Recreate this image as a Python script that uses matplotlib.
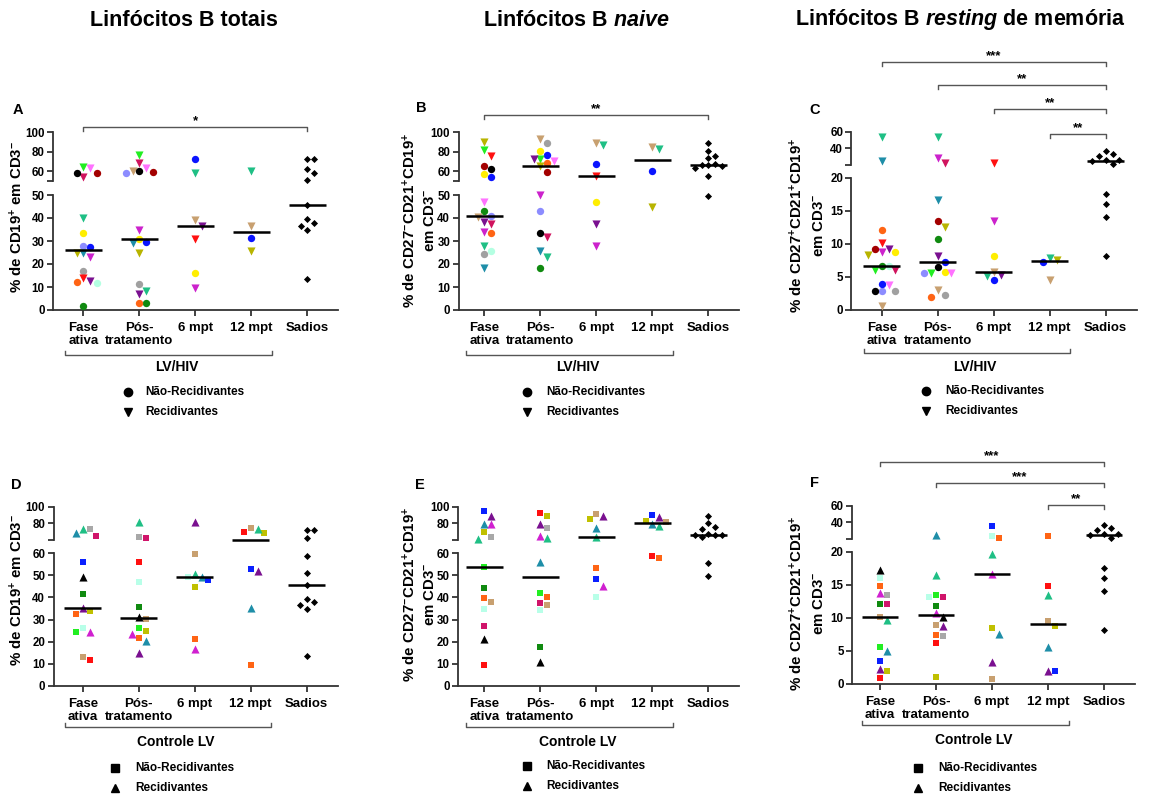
import numpy as np
import matplotlib
matplotlib.use('Agg')
from matplotlib import pyplot as plt
from matplotlib.transforms import blended_transform_factory

plt.rcParams['font.family'] = ['Liberation Sans', 'DejaVu Sans']
plt.rcParams['font.weight'] = 'bold'
plt.rcParams['mathtext.fontset'] = 'custom'
plt.rcParams['mathtext.rm'] = 'Liberation Sans:bold'
plt.rcParams['mathtext.bf'] = 'Liberation Sans:bold'
plt.rcParams['mathtext.it'] = 'Liberation Sans:bold:italic'
plt.rcParams['mathtext.default'] = 'bf'

categories = ['Fase\nativa', 'Pós-\ntratamento', '6 mpt', '12 mpt', 'Sadios']

# healthy donors, same people in each column of panels
sadios_totais = [72.3, 72.3, 62.4, 58.6, 51.0, 45.7, 39.4, 36.5, 34.8, 38.0, 13.3]
sadios_naive = [89.4, 81.0, 75.8, 73.5, 67.5, 66.2, 66.0, 65.5, 63.8, 55.4, 49.7]
sadios_memoria = [36.8, 32.8, 30.8, 26.0, 26.0, 25.2, 21.2, 17.5, 16.0, 14.0, 8.1]

# LV/HIV: one list per time point (fase ativa, pos, 6 mpt, 12 mpt) + patient ids
a_vals = [[63, 58, 54, 58.6, 64, 39.9, 33.6, 27.4, 28, 24.9, 24.9, 22.9, 17.1, 13.8, 12.6, 11.7, 12.3, 1.9],
          [76.8, 68.9, 63.8, 59, 58.3, 60.3, 60.7, 34.6, 30.7, 29.4, 29, 24.6, 11.3, 6.8, 8.4, 2.9, 3.2],
          [72.3, 58.6, 39.3, 36.7, 30.7, 15.9, 9.7],
          [60.3, 36.5, 31.4, 25.7]]
a_ids = [[1, 2, 3, 4, 5, 6, 7, 8, 9, 10, 11, 12, 13, 14, 15, 16, 17, 18],
         [5, 3, 1, 2, 9, 19, 4, 12, 7, 8, 10, 11, 13, 15, 6, 18, 17],
         [8, 6, 19, 15, 14, 7, 12],
         [6, 19, 8, 11]]

b_vals = [[89.7, 81.9, 75.7, 65.8, 62.4, 56.9, 53.8, 47.1, 43.0, 40.9, 40.6, 37.2, 38.3, 33.8, 33.6, 28.0, 25.8, 24.2, 18.1],
          [93.2, 88.7, 80.9, 76.8, 72.6, 72.3, 70.6, 68.9, 65.5, 59.7, 50, 43.0, 31.9, 33.3, 25.7, 22.9, 18.4],
          [89.4, 87.0, 67.5, 55.2, 46.8, 37.4, 28.0],
          [82.6, 85.3, 60.3, 44.9]]
b_ids = [[11, 5, 14, 2, 4, 7, 8, 1, 18, 9, 19, 3, 15, 12, 17, 6, 16, 13, 10],
         [19, 13, 7, 8, 5, 15, 1, 17, 11, 2, 12, 9, 3, 4, 10, 6, 18],
         [19, 6, 8, 14, 7, 15, 12],
         [6, 19, 8, 11]]

c_vals = [[53.2, 25.2, 12.1, 10.2, 9.2, 8.8, 8.7, 8.3, 9.2, 6.7, 6.7, 6.0, 6.1, 3.8, 2.9, 2.9, 2.9, 4.0, 0.6],
          [53.2, 28, 22.8, 16.7, 13.5, 12.5, 10.8, 8.2, 7.2, 6.5, 5.7, 5.6, 5.6, 5.6, 3.0, 2.0, 2.2],
          [22.8, 13.5, 8.1, 5.3, 5.7, 5.2, 4.5],
          [7.5, 7.3, 7.8, 4.6]]
c_ids = [[6, 10, 17, 14, 15, 12, 7, 11, 2, 18, 16, 3, 5, 1, 9, 4, 13, 8, 19],
         [6, 12, 3, 10, 2, 11, 18, 15, 8, 4, 7, 5, 1, 9, 19, 17, 13],
         [14, 12, 7, 15, 19, 6, 8],
         [11, 8, 6, 19]]

# Controle LV
d_vals = [[73.2, 73.2, 68, 65.2, 56.2, 49.1, 41.4, 35.1, 32.3, 33.9, 24.2, 24.2, 26.0, 11.6, 12.8],
          [82, 62, 64, 56.2, 47.2, 35.8, 30.1, 31.0, 26.0, 24.8, 21.5, 20.4, 23.3, 15.0],
          [82, 59.7, 49.4, 50.5, 49.4, 47.9, 44.6, 21.2, 16.6],
          [74, 70, 68, 72.8, 52.1, 52.9, 35.1, 9.4]]
d_ids = [[1, 2, 3, 4, 5, 6, 7, 8, 9, 10, 11, 12, 13, 14, 15],
         [1, 4, 2, 14, 13, 7, 15, 6, 12, 10, 9, 3, 11, 8],
         [8, 15, 3, 1, 13, 5, 10, 9, 11],
         [15, 14, 10, 1, 8, 5, 3, 9]]

e_vals = [[95.2, 89.2, 79.2, 79.2, 69.2, 61.2, 63.2, 54.0, 44.4, 39.9, 38.1, 34.6, 27.1, 21.0, 9.4],
          [92, 89.2, 79.2, 74.8, 64.8, 62, 55.9, 42.2, 40.4, 37.6, 34.3, 36.6, 17.7, 10.9],
          [91.2, 84.8, 89.2, 74, 64, 53.5, 48.2, 45.2, 40.4],
          [90, 87.2, 83.2, 82, 79.2, 76.8, 58.0, 58.8]]
e_ids = [[5, 8, 3, 11, 10, 1, 2, 12, 7, 9, 15, 13, 4, 6, 14],
         [14, 10, 8, 2, 11, 1, 3, 12, 9, 4, 13, 15, 7, 6],
         [15, 10, 8, 3, 1, 9, 5, 11, 13],
         [5, 8, 10, 15, 3, 1, 9, 14]]

f_vals = [[17.3, 16.0, 14.8, 13.5, 13.7, 12.1, 12.1, 10.1, 9.7, 5.6, 4.9, 3.4, 2.3, 1.9, 0.8],
          [24.8, 16.4, 13.5, 13.2, 13.2, 11.8, 10.7, 10.1, 8.7, 8.9, 7.4, 7.2, 6.1, 1.0],
          [36, 24, 21, 19.6, 16.6, 7.6, 8.5, 3.3, 0.7],
          [24, 14.8, 13.5, 9.5, 8.7, 5.5, 1.9, 1.9]]
f_ids = [[6, 13, 9, 2, 11, 7, 4, 15, 1, 12, 3, 5, 8, 10, 14],
         [3, 1, 12, 4, 13, 7, 11, 6, 8, 15, 9, 2, 14, 10],
         [5, 13, 9, 1, 11, 3, 10, 8, 15],
         [9, 14, 1, 15, 10, 3, 8, 5]]

# one colour per patient; relapsing patients get the triangle marker
hiv_colors = {1: '#ff72ff', 2: '#a30000', 3: '#d0145e', 4: '#000000', 5: '#22ee22',
              6: '#1fbf85', 7: '#ffee00', 8: '#0a14ff', 9: '#8c8cff', 10: '#1e8ea8',
              11: '#b8b400', 12: '#cc22cc', 13: '#a0a0a0', 14: '#ff1010', 15: '#7a1090',
              16: '#b4ffe2', 17: '#ff6414', 18: '#108a10', 19: '#c8a070'}
hiv_relapse = {1, 3, 5, 6, 10, 11, 12, 14, 15, 19}
ctl_colors = {1: '#1fbf85', 2: '#a8a8a8', 3: '#1e8ea8', 4: '#d0146a', 5: '#0a20ff',
              6: '#000000', 7: '#108a10', 8: '#7a1090', 9: '#ff6414', 10: '#c0c000',
              11: '#d020d0', 12: '#22ee22', 13: '#b8ffe8', 14: '#ff1010', 15: '#c8a070'}
ctl_relapse = {1, 3, 6, 8, 11}

W, H = 1150, 796
STEP = 56.0
XRIGHT = 4.55
LINE = '#333333'

fig = plt.figure(figsize=(W / 100, H / 100), dpi=100)


def fy(py):
    return 1 - py / H


def box(left, top, right, bottom):
    return [left / W, 1 - bottom / H, (right - left) / W, (bottom - top) / H]


def swarm(ys, step=6.8, diam=6.8):
    offs = np.zeros(len(ys))
    placed = []
    for i in np.argsort(-np.asarray(ys), kind='stable'):
        for k in [0, 1, -1, 2, -2, 3, -3, 4, -4, 5, -5, 6, -6]:
            dx = k * step
            if all((dx - px) ** 2 + (ys[i] - py) ** 2 >= diam ** 2 for px, py in placed):
                break
        offs[i] = dx
        placed.append((dx, ys[i]))
    return offs


lab_totais = ['% de CD19$^{+}$ em CD3$^{-}$']
lab_naive = ['% de CD27$^{-}$CD21$^{+}$CD19$^{+}$', 'em CD3$^{-}$']
lab_memoria = ['% de CD27$^{+}$CD21$^{+}$CD19$^{+}$', 'em CD3$^{-}$']

panels = [
    dict(letter='A', vals=a_vals, ids=a_ids, healthy=sadios_totais, cohort='hiv', cat0=83.3, xleft=-0.54,
         upper=(132.3, 181, 50, 100, [50, 60, 80, 100]), lower=(195, 310, 0, 50, [0, 10, 20, 30, 40, 50]),
         ylabel=lab_totais, ylab=([17], 217), letter_xy=(18, 110),
         bracket=355, glabel=(366.7, 'LV/HIV'), legend=(127.7, 145.7, 392.3, 412.3),
         sig=[(0, 4, '*', 126.7)]),
    dict(letter='B', vals=b_vals, ids=b_ids, healthy=sadios_naive, cohort='hiv', cat0=484.3, xleft=-0.46,
         upper=(132.3, 181, 50, 100, [50, 60, 80, 100]), lower=(195, 310, 0, 50, [0, 10, 20, 30, 40, 50]),
         ylabel=lab_naive, ylab=([410, 430], 220), letter_xy=(421.7, 108),
         bracket=355, glabel=(366.7, 'LV/HIV'), legend=(526.7, 546.7, 392, 412),
         sig=[(0, 4, '**', 115)]),
    dict(letter='C', vals=c_vals, ids=c_ids, healthy=sadios_memoria, cohort='hiv', cat0=881.7, xleft=-0.54,
         upper=(131.7, 165, 20, 60, [20, 40, 60]), lower=(177.7, 310, 0, 20, [0, 5, 10, 15, 20]),
         ylabel=lab_memoria, ylab=([797, 819], 225), letter_xy=(814.3, 110),
         bracket=352.7, glabel=(366.7, 'LV/HIV'), legend=(925.7, 945.7, 391, 411),
         sig=[(0, 4, '***', 62.3), (1, 4, '**', 85), (2, 4, '**', 109), (3, 4, '**', 134.3)]),
    dict(letter='D', vals=d_vals, ids=d_ids, healthy=sadios_totais, cohort='ctl', cat0=82.7, xleft=-0.52,
         upper=(506.7, 540, 60, 100, [60, 80, 100]), lower=(553.3, 685.7, 0, 60, [0, 10, 20, 30, 40, 50, 60]),
         ylabel=lab_totais, ylab=([17], 590), letter_xy=(16.7, 485),
         bracket=726.7, glabel=(741.7, 'Controle LV'), legend=(115, 135, 767.7, 788.3),
         sig=[]),
    dict(letter='E', vals=e_vals, ids=e_ids, healthy=sadios_naive, cohort='ctl', cat0=484.3, xleft=-0.47,
         upper=(506.7, 540, 60, 100, [60, 80, 100]), lower=(553.3, 685.7, 0, 60, [0, 10, 20, 30, 40, 50, 60]),
         ylabel=lab_naive, ylab=([410, 430], 594), letter_xy=(420, 485),
         bracket=726.7, glabel=(741.7, 'Controle LV'), legend=(526.7, 546.7, 765.7, 785.7),
         sig=[]),
    dict(letter='F', vals=f_vals, ids=f_ids, healthy=sadios_memoria, cohort='ctl', cat0=880, xleft=-0.5,
         upper=(505.7, 539, 20, 60, [20, 40, 60]), lower=(551.7, 683.7, 0, 20, [0, 5, 10, 15, 20]),
         ylabel=lab_memoria, ylab=([797, 819], 603), letter_xy=(814.3, 483.3),
         bracket=725, glabel=(740, 'Controle LV'), legend=(917.7, 938.3, 767.7, 787.7),
         sig=[(0, 4, '***', 462.3), (1, 4, '***', 483.3), (3, 4, '**', 505)]),
]

for p in panels:
    xlim = (p['xleft'], XRIGHT)
    left = p['cat0'] + xlim[0] * STEP
    right = p['cat0'] + xlim[1] * STEP
    ut, ub, umin, umax, uticks = p['upper']
    lt, lb, lmin, lmax, lticks = p['lower']
    ax_u = fig.add_axes(box(left, ut, right, ub))
    ax_l = fig.add_axes(box(left, lt, right, lb))
    for ax, lo, hi, ticks in [(ax_u, umin, umax, uticks), (ax_l, lmin, lmax, lticks)]:
        ax.set_xlim(*xlim)
        ax.set_ylim(lo, hi)
        ax.set_yticks(ticks)
        ax.set_facecolor('none')
        for side in ['top', 'right']:
            ax.spines[side].set_visible(False)
        ax.spines['left'].set_linewidth(1.3)
        ax.spines['left'].set_color(LINE)
        ax.tick_params(axis='y', length=4.5, width=1.3, color=LINE, pad=1.5, labelsize=8.3)
    ax_u.set_yticklabels([''] + [str(t) for t in uticks[1:]])
    ax_u.spines['bottom'].set_visible(False)
    ax_u.set_xticks([])
    ax_l.spines['bottom'].set_linewidth(1.3)
    ax_l.spines['bottom'].set_color(LINE)
    ax_l.set_xticks(range(len(categories)))
    ax_l.set_xticklabels(categories, fontsize=9.5, linespacing=1.15, va='top')
    ax_l.tick_params(axis='x', length=4.5, width=1.3, color=LINE, pad=4)

    ppu = ax_l.transData.transform((1, 0))[0] - ax_l.transData.transform((0, 0))[0]

    def axis_for(v):
        return ax_l if v <= lmax else ax_u

    if p['cohort'] == 'hiv':
        colors, relapse, mk_n, mk_r = hiv_colors, hiv_relapse, 'o', 'v'
    else:
        colors, relapse, mk_n, mk_r = ctl_colors, ctl_relapse, 's', '^'

    groups = p['vals'] + [p['healthy']]
    for i, vals in enumerate(groups):
        vals = np.asarray(vals, dtype=float)
        ys = np.array([axis_for(v).transData.transform((i, v))[1] for v in vals])
        xs = i + swarm(ys) / ppu
        for j, v in enumerate(vals):
            if i < 4:
                pid = p['ids'][i][j]
                col = colors[pid]
                if pid in relapse:
                    mk, s = mk_r, 34
                else:
                    mk, s = mk_n, 28 if mk_n == 'o' else 24
            else:
                col, mk, s = 'black', 'D', 13
            axis_for(v).scatter(xs[j], v, s=s, marker=mk, color=col, linewidths=0,
                                clip_on=False, zorder=3)
        med = np.median(vals)
        axis_for(med).plot([i - 0.33, i + 0.33], [med, med], color='black', lw=1.8,
                           clip_on=False, zorder=4, solid_capstyle='butt')

    tr = blended_transform_factory(ax_l.transData, fig.transFigure)

    # group bracket under the patient columns
    by = p['bracket']
    fig.lines.append(plt.Line2D([-0.32, -0.32, 3.37, 3.37], [fy(by - 4), fy(by), fy(by), fy(by - 4)],
                                transform=tr, color='#555555', lw=1.0))
    fig.text(1.67, fy(p['glabel'][0]), p['glabel'][1], transform=tr, ha='center', va='center',
             fontsize=10)

    # significance bars against healthy donors
    for a, b, stars, sy in p['sig']:
        fig.lines.append(plt.Line2D([a, a, b, b], [fy(sy + 4), fy(sy), fy(sy), fy(sy + 4)],
                                    transform=tr, color='#555555', lw=1.0))
        fig.text((a + b) / 2, fy(sy - 6), stars, transform=tr, ha='center', va='center',
                 fontsize=9.5)

    # legend
    mx, tx, r1, r2 = p['legend']
    fig.lines.append(plt.Line2D([mx / W], [fy(r1)], marker=mk_n, color='black', ms=6 if mk_n == 'o' else 5.5,
                                transform=fig.transFigure, ls='none'))
    fig.lines.append(plt.Line2D([mx / W], [fy(r2)], marker=mk_r, color='black', ms=6,
                                transform=fig.transFigure, ls='none'))
    fig.text(tx / W, fy(r1), 'Não-Recidivantes', fontsize=8.5, va='center')
    fig.text(tx / W, fy(r2), 'Recidivantes', fontsize=8.5, va='center')

    fig.text(p['letter_xy'][0] / W, fy(p['letter_xy'][1]), p['letter'], fontsize=10.5,
             ha='center', va='center')
    xs_lab, yc_lab = p['ylab']
    for xl, line in zip(xs_lab, p['ylabel']):
        fig.text(xl / W, fy(yc_lab), line, rotation=90, fontsize=10.8, ha='center', va='center')

fig.text(184 / W, fy(20), 'Linfócitos B totais', fontsize=15.5, ha='center', va='center')
fig.text(576 / W, fy(20), r'Linfócitos B $\mathit{naive}$', fontsize=15.5, ha='center', va='center')
fig.text(960 / W, fy(20), r'Linfócitos B $\mathit{resting}$ de memória', fontsize=15.5,
         ha='center', va='center')

fig.savefig('out.png', dpi=100)
